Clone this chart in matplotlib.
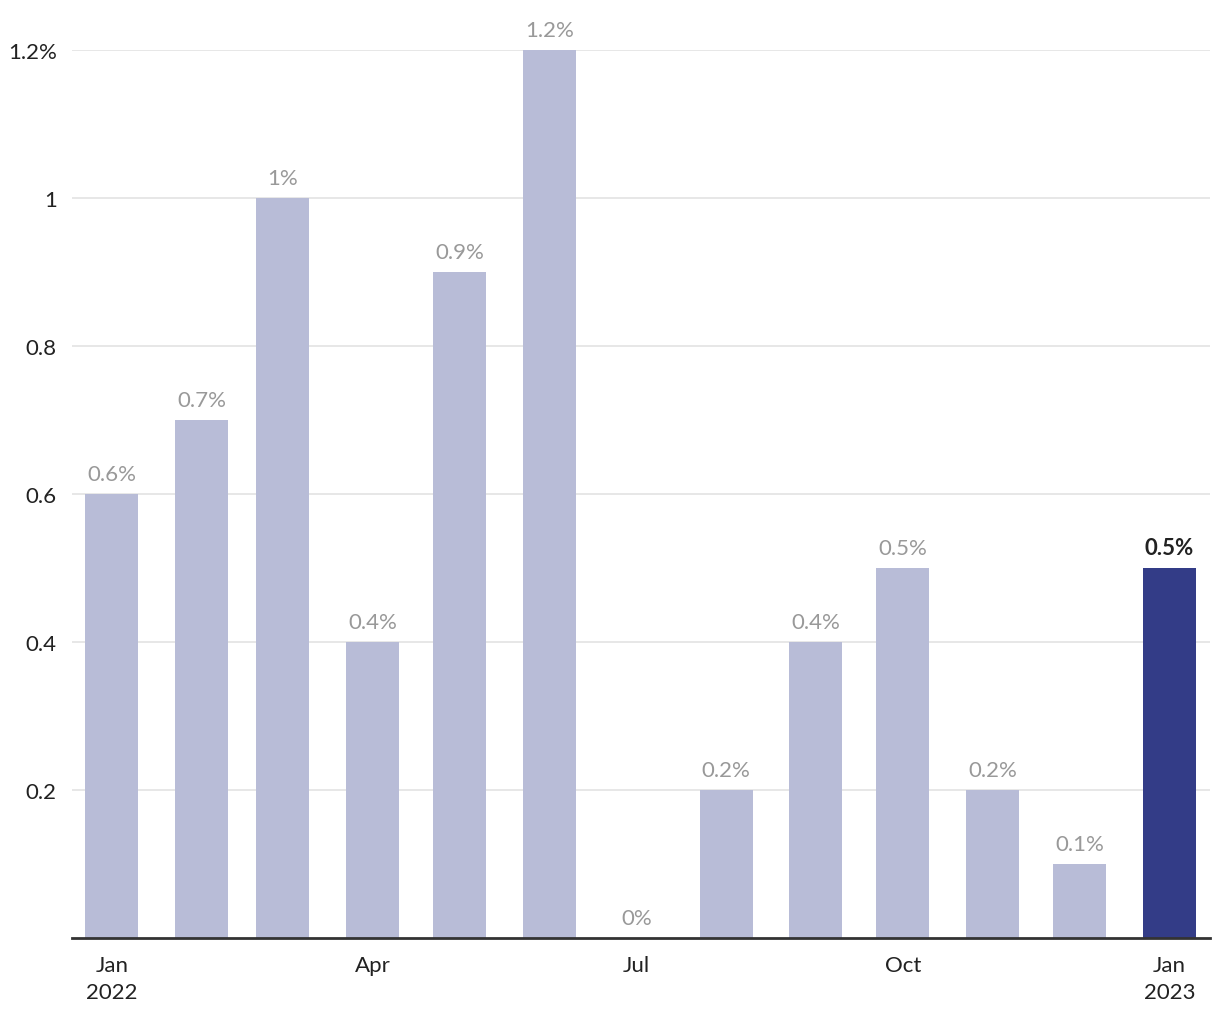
import matplotlib
matplotlib.use("Agg")
import matplotlib.pyplot as plt
import matplotlib.dates as mdates
import numpy as np
from datetime import date, timedelta

plt.rcParams["font.family"] = ["Lato", "DejaVu Sans"]

months = [date(2022, m, 1) for m in range(1, 13)] + [date(2023, 1, 1)]
values = [0.6, 0.7, 1.0, 0.4, 0.9, 1.2, 0.0, 0.2, 0.4, 0.5, 0.2, 0.1, 0.5]
value_labels = ["0.6%", "0.7%", "1%", "0.4%", "0.9%", "1.2%", "0%",
                "0.2%", "0.4%", "0.5%", "0.2%", "0.1%", "0.5%"]
tick_dates = [date(2022, 1, 1), date(2022, 4, 1), date(2022, 7, 1),
              date(2022, 10, 1), date(2023, 1, 1)]
tick_labels = ["Jan\n2022", "Apr", "Jul", "Oct", "Jan\n2023"]
y_ticks = [0.2, 0.4, 0.6, 0.8, 1.0, 1.2]
y_tick_labels = ["0.2", "0.4", "0.6", "0.8", "1", "1.2%"]

light = "#b8bcd7"
dark = "#333c87"

fig = plt.figure(figsize=(12.2, 10.2), dpi=100)
ax = fig.add_axes([0.059, 0.0814 - 0.002, 0.9328, 0.8696 + 0.001])

x = mdates.date2num(months)
colors = [light] * (len(values) - 1) + [dark]
ax.bar(x, values, width=18.3, color=colors, zorder=2)

for i, (xi, v, lab) in enumerate(zip(x, values, value_labels)):
    last = i == len(values) - 1
    ax.annotate(lab, (xi, v), xytext=(0, 7), textcoords="offset points",
                ha="center", va="bottom", fontsize=16,
                color="#222222" if last else "#999999",
                fontweight="bold" if last else "normal", clip_on=False)

ax.set_xlim(mdates.date2num(date(2022, 1, 1)) - 13.8,
            mdates.date2num(date(2023, 1, 1)) + 14)
ax.set_ylim(0, 1.2)

ax.set_xticks(mdates.date2num(tick_dates))
ax.set_xticklabels(tick_labels, fontsize=16, color="#222222", linespacing=1.45)
ax.set_yticks(y_ticks)
ax.set_yticklabels(y_tick_labels, fontsize=16, color="#222222")
ax.tick_params(axis="x", length=0, pad=12)
ax.tick_params(axis="y", length=0, pad=11)

ax.grid(axis="y", color="#e3e3e3", linewidth=1.2, zorder=0)
for side in ["top", "right", "left"]:
    ax.spines[side].set_visible(False)
ax.spines["bottom"].set_color("#333333")
ax.spines["bottom"].set_linewidth(2)
ax.spines["bottom"].set_zorder(3)

fig.savefig("out.png", dpi=100)
